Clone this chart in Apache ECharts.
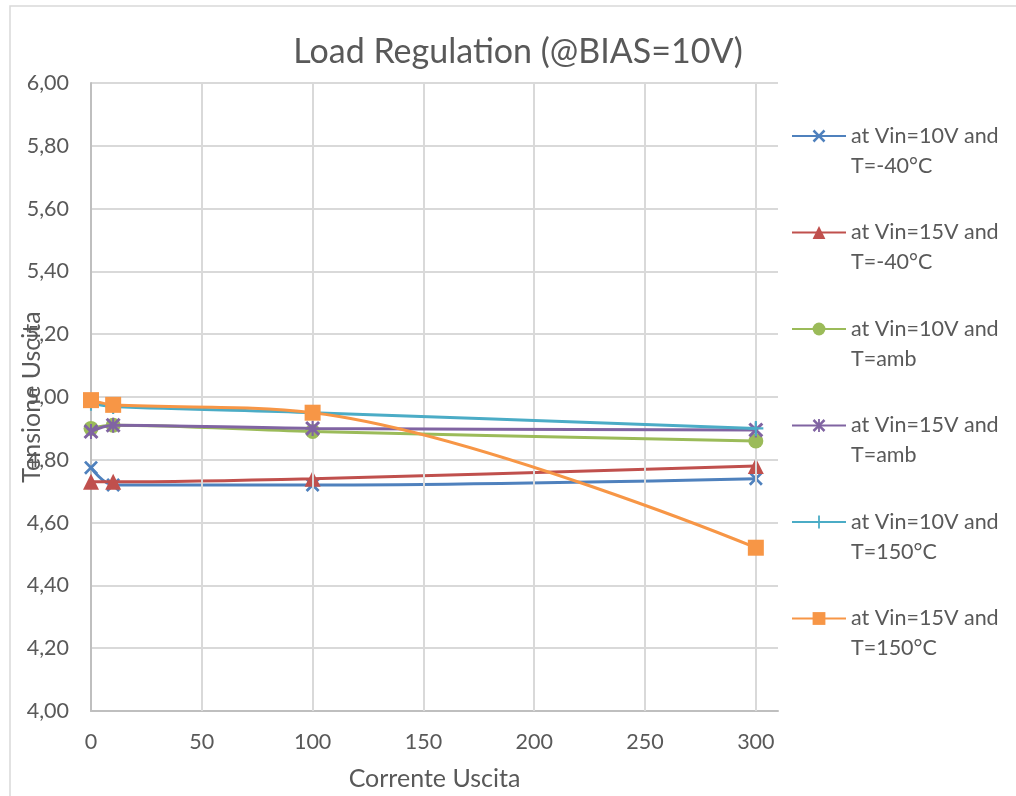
<!DOCTYPE html>
<html>
<head>
<meta charset="utf-8">
<script src="https://cdn.jsdelivr.net/npm/echarts@6/dist/echarts.min.js"></script>
<style>
  html, body { margin: 0; padding: 0; background: #fff; }
  #chart { width: 1016px; height: 796px; }
</style>
</head>
<body>
<div id="chart"></div>
<script>
const currents = [0, 10, 100, 300]
const xTicks = [50, 100, 150, 200, 250, 300]

const vin10Tm40 = [4.775, 4.72, 4.72, 4.74]
const vin15Tm40 = [4.73, 4.73, 4.74, 4.78]
const vin10Tamb = [4.90, 4.91, 4.89, 4.86]
const vin15Tamb = [4.89, 4.91, 4.90, 4.895]
const vin10T150 = [4.98, 4.97, 4.95, 4.90]
const vin15T150 = [4.99, 4.975, 4.95, 4.52]

const names = [
  'at Vin=10V and\nT=-40°C',
  'at Vin=15V and\nT=-40°C',
  'at Vin=10V and\nT=amb',
  'at Vin=15V and\nT=amb',
  'at Vin=10V and\nT=150°C',
  'at Vin=15V and\nT=150°C'
]

const colors = ['#4F81BD', '#C0504D', '#9BBB59', '#8064A2', '#4BACC6', '#F79646']

const crossPath = 'M0,1.4L1.4,0L5,3.6L8.6,0L10,1.4L6.4,5L10,8.6L8.6,10L5,6.4L1.4,10L0,8.6L3.6,5Z'
const symbols = [
  { symbol: 'path://' + crossPath, size: 14 },
  { symbol: 'triangle', size: 16 },
  { symbol: 'circle', size: 15 },
  { symbol: 'path://' + crossPath + 'M4.3,0H5.7V10H4.3Z', size: 15 },
  { symbol: 'path://M4.3,0H5.7V4.3H10V5.7H5.7V10H4.3V5.7H0V4.3H4.3Z', size: 15 },
  { symbol: 'rect', size: 16 }
]

const allValues = [vin10Tm40, vin15Tm40, vin10Tamb, vin15Tamb, vin10T150, vin15T150]

const font = 'Lato'
const textColor = '#595959'

const chart = echarts.init(document.getElementById('chart'))

const series = allValues.map((vals, i) => ({
  name: names[i],
  type: 'line',
  smooth: 0.35,
  symbol: symbols[i].symbol,
  symbolSize: symbols[i].size,
  data: vals.map((v, k) => [currents[k], v]),
  lineStyle: { color: colors[i], width: 3 },
  itemStyle: { color: colors[i] },
  z: 3 + i
}))

// vertical gridlines at the x ticks
series.push({
  type: 'line',
  data: [],
  silent: true,
  markLine: {
    silent: true,
    symbol: 'none',
    label: { show: false },
    lineStyle: { color: '#d9d9d9', width: 2, type: 'solid' },
    data: xTicks.map(t => ({ xAxis: t }))
  },
  z: 1
})

chart.setOption({
  animation: false,
  textStyle: { fontFamily: font },
  graphic: [{
    type: 'rect',
    shape: { x: 10, y: 6, width: 1016, height: 800 },
    style: { fill: 'none', stroke: '#d9d9d9', lineWidth: 1.5 },
    z: -10
  }],
  title: {
    text: 'Load Regulation (@BIAS=10V)',
    left: 513,
    top: 30,
    textAlign: 'center',
    textStyle: { fontFamily: font, fontSize: 34, fontWeight: 'normal', color: textColor }
  },
  legend: {
    orient: 'vertical',
    left: 791,
    top: 91,
    padding: 0,
    itemWidth: 54,
    itemHeight: 16,
    itemGap: 6.5,
    data: names,
    formatter: name => '\n' + name,
    textStyle: {
      fontFamily: font,
      fontSize: 21.5,
      color: textColor,
      lineHeight: 30
    }
  },
  grid: {
    left: 91,
    top: 83,
    right: 238,
    bottom: 85,
    outerBoundsMode: 'none'
  },
  xAxis: {
    type: 'value',
    min: 0,
    max: 310,
    interval: 50,
    name: 'Corrente Uscita',
    nameLocation: 'middle',
    nameGap: 55,
    nameMoveOverlap: false,
    nameTextStyle: { fontFamily: font, fontSize: 25, color: textColor },
    axisLine: { lineStyle: { color: '#bfbfbf', width: 2 } },
    axisTick: { show: false },
    splitLine: { show: false },
    axisLabel: {
      fontFamily: font,
      fontSize: 21.5,
      color: textColor,
      margin: 20,
      showMaxLabel: false,
      formatter: v => (v % 50 === 0 ? String(v) : '')
    }
  },
  yAxis: {
    type: 'value',
    min: 4,
    max: 6,
    interval: 0.2,
    name: 'Tensione Uscita',
    nameLocation: 'middle',
    nameGap: 47,
    nameMoveOverlap: false,
    nameTextStyle: { fontFamily: font, fontSize: 25, color: textColor },
    axisLine: { show: true, lineStyle: { color: '#bfbfbf', width: 2 } },
    axisTick: { show: false },
    splitLine: { lineStyle: { color: '#d9d9d9', width: 2 } },
    axisLabel: {
      fontFamily: font,
      fontSize: 21.5,
      color: textColor,
      margin: 22,
      formatter: v => v.toFixed(2).replace('.', ',')
    }
  },
  series: series
})
</script>
</body>
</html>
